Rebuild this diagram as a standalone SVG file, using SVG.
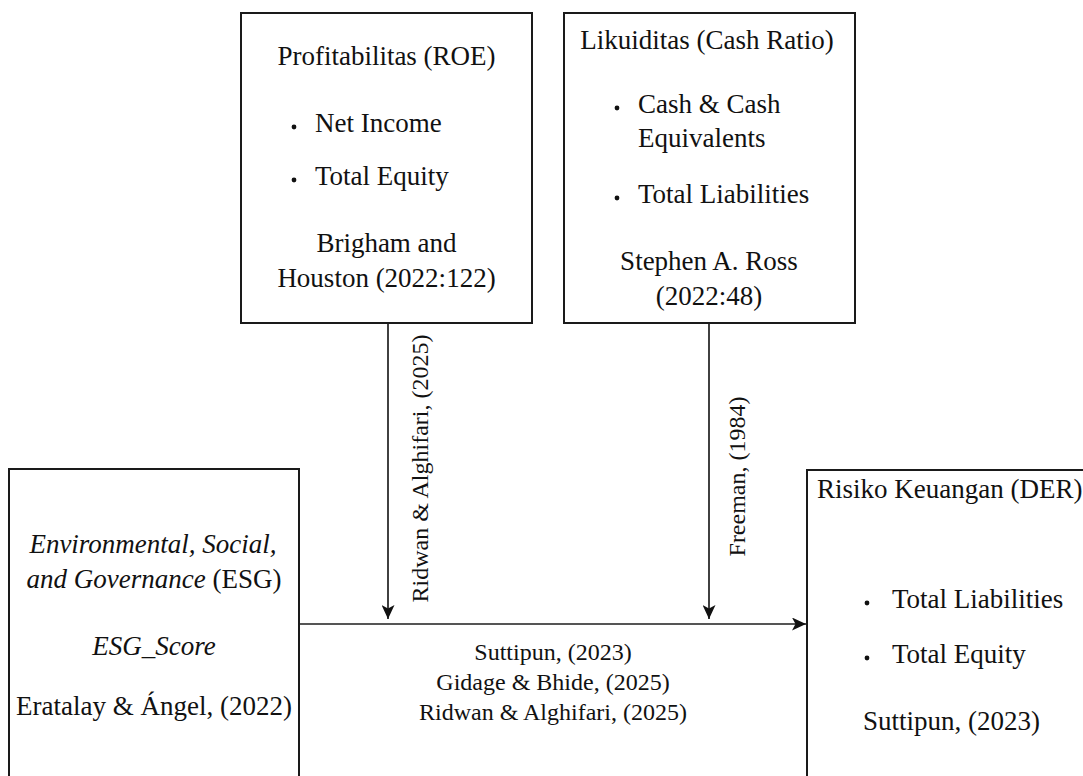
<svg xmlns="http://www.w3.org/2000/svg" width="1083" height="776" viewBox="0 0 1083 776">
<style>
.box{fill:#ffffff;stroke:#1a1a1a;stroke-width:2}
.t{font-family:"Liberation Serif","Times New Roman",serif;font-size:27px;fill:#111}
.c{text-anchor:middle}
.i{font-style:italic}
.e{font-family:"Liberation Serif","Times New Roman",serif;font-size:24px;fill:#111}
.line{fill:none;stroke:#111;stroke-width:1.6}
.hline{fill:none;stroke:#555;stroke-width:2.2}
.dot{fill:#111}
</style>
<defs>
<marker id="arr" markerUnits="userSpaceOnUse" markerWidth="14" markerHeight="13" refX="14" refY="6.5" orient="auto">
<path d="M0,0 L14,6.5 L0,13 L3.5,6.5 Z" fill="#111"/>
</marker>
</defs>
<rect width="1083" height="776" fill="#ffffff"/>

<g id="connectors">
<line class="hline" x1="300" y1="624" x2="806" y2="624" marker-end="url(#arr)"/>
<line class="line" x1="388" y1="324" x2="388" y2="619" marker-end="url(#arr)"/>
<line class="line" x1="709" y1="324" x2="709" y2="619" marker-end="url(#arr)"/>
<text class="e" transform="translate(428,468.5) rotate(-90)" text-anchor="middle">Ridwan &amp; Alghifari, (2025)</text>
<text class="e" transform="translate(745,476.5) rotate(-90)" text-anchor="middle">Freeman, (1984)</text>
<text class="e" x="553" y="660" text-anchor="middle">Suttipun, (2023)</text>
<text class="e" x="553" y="690" text-anchor="middle">Gidage &amp; Bhide, (2025)</text>
<text class="e" x="553" y="720" text-anchor="middle">Ridwan &amp; Alghifari, (2025)</text>
</g>

<g id="node-roe">
<rect class="box" x="241" y="13" width="291" height="310"/>
<text class="t c" x="386.5" y="65">Profitabilitas (ROE)</text>
<circle class="dot" cx="294" cy="127" r="2.4"/>
<text class="t" x="315" y="132">Net Income</text>
<circle class="dot" cx="294" cy="180" r="2.4"/>
<text class="t" x="315" y="185">Total Equity</text>
<text class="t c" x="386.5" y="252">Brigham and</text>
<text class="t c" x="386.5" y="287">Houston (2022:122)</text>
</g>

<g id="node-cash">
<rect class="box" x="564" y="13" width="291" height="310"/>
<text class="t c" x="707" y="49">Likuiditas (Cash Ratio)</text>
<circle class="dot" cx="617" cy="108" r="2.4"/>
<text class="t" x="638" y="113">Cash &amp; Cash</text>
<text class="t" x="638" y="147">Equivalents</text>
<circle class="dot" cx="617" cy="198" r="2.4"/>
<text class="t" x="638" y="203">Total Liabilities</text>
<text class="t c" x="709" y="270">Stephen A. Ross</text>
<text class="t c" x="709" y="305">(2022:48)</text>
</g>

<g id="node-esg">
<rect class="box" x="9" y="469" width="290" height="320"/>
<text class="t c" x="153" y="553"><tspan class="i">Environmental, Social,</tspan></text>
<text class="t c" x="154" y="588"><tspan class="i">and Governance</tspan> (ESG)</text>
<text class="t c i" x="154" y="655">ESG_Score</text>
<text class="t c" x="154" y="715">Eratalay &amp; Ángel, (2022)</text>
</g>

<g id="node-der">
<rect class="box" x="807" y="470" width="290" height="320"/>
<text class="t" x="817" y="498">Risiko Keuangan (DER)</text>
<circle class="dot" cx="867" cy="603" r="2.4"/>
<text class="t" x="892" y="608">Total Liabilities</text>
<circle class="dot" cx="867" cy="658" r="2.4"/>
<text class="t" x="892" y="663">Total Equity</text>
<text class="t" x="863" y="730">Suttipun, (2023)</text>
</g>
</svg>
